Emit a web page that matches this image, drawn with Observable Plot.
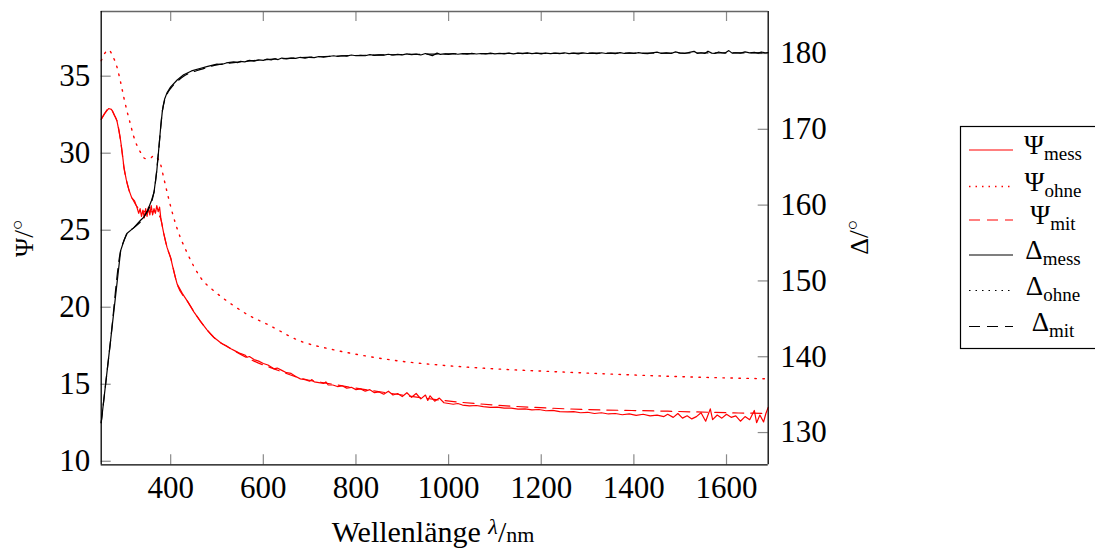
<!DOCTYPE html>
<html><head><meta charset="utf-8">
<script src="https://cdn.jsdelivr.net/npm/d3@7"></script>
<script src="https://cdn.jsdelivr.net/npm/@observablehq/plot@0.6"></script>
<style>
body{margin:0;background:#fff;}
#wrap{position:relative;width:1095px;height:550px;overflow:hidden;}
</style></head><body><div id="wrap"></div>
<script>
// ---- data (wavelength nm, value in degrees) ----
const psiMess = [[250,32.2],[258,32.6],[266,32.9],[272,32.85],[278,32.5],[284,32.1],[288,31.5],[292,30.8],[296,29.9],[299,29.1],[304,28.3],[310,27.6],[316,27.1],[322,26.9],[327,26.5],[331,26.1],[334,26.4],[337,25.9],[340,26.3],[343,25.8],[346,26.4],[349,25.9],[352,26.5],[355,26.0],[358,26.6],[361,26.0],[364,26.4],[367,26.1],[370,26.6],[373,26.2],[376,26.5],[379,25.7],[385,24.8],[392,23.9],[400,23.2],[407,22.3],[414,21.5],[425,20.9],[436,20.4],[450,19.7],[464,19.1],[478,18.55],[493,18.05],[510,17.65],[520,17.5],[530,17.3],[540,17.15],[550,17.0],[560,16.9],[565,16.75],[570,16.8],[580,16.6],[590,16.5],[600,16.35],[610,16.25],[623,16.0],[630,16.05],[640,15.9],[650,15.75],[660,15.7],[670,15.5],[680,15.35],[690,15.3],[700,15.2],[705,15.3],[710,15.15],[720,15.1],[730,15.05],[735,15.15],[740,14.95],[750,14.95],[760,14.85],[770,14.9],[780,14.75],[790,14.8],[800,14.65],[810,14.7],[820,14.55],[830,14.65],[840,14.45],[850,14.5],[860,14.35],[870,14.55],[880,14.3],[890,14.4],[900,14.2],[910,14.45],[920,14.15],[930,14.4],[940,14.05],[950,14.3],[955,13.95],[960,14.25],[970,13.9],[980,14.1],[990,13.8],[1000,13.75],[1010,13.7],[1020,13.75],[1030,13.65],[1045,13.6],[1060,13.62],[1075,13.55],[1090,13.5],[1105,13.52],[1120,13.45],[1135,13.45],[1150,13.38],[1165,13.4],[1180,13.33],[1195,13.36],[1210,13.28],[1225,13.3],[1240,13.22],[1257,13.2],[1270,13.22],[1285,13.15],[1300,13.18],[1315,13.1],[1330,13.15],[1345,13.07],[1360,13.1],[1375,13.02],[1390,13.08],[1405,12.98],[1420,13.05],[1435,12.95],[1450,13.0],[1465,12.9],[1473,13.05],[1485,12.85],[1495,13.1],[1505,12.8],[1515,12.95],[1525,12.75],[1535,12.9],[1545,13.15],[1555,12.6],[1565,13.4],[1570,12.7],[1580,13.0],[1590,12.8],[1600,13.05],[1610,12.85],[1620,12.95],[1630,12.6],[1640,12.9],[1650,12.7],[1660,13.3],[1665,12.5],[1672,13.0],[1680,12.55],[1685,13.1],[1690,13.5]];
const psiOhne = [[250,36.0],[258,36.5],[266,36.7],[275,36.3],[284,35.6],[292,34.6],[299,33.6],[306,32.7],[313,31.9],[320,31.1],[328,30.45],[335,30.05],[345,29.65],[355,29.65],[364,29.85],[371,29.7],[378,29.3],[385,28.4],[392,27.5],[403,26.2],[414,25.1],[436,23.5],[464,21.95],[500,20.9],[536,20.1],[570,19.45],[608,18.9],[680,17.8],[750,17.25],[800,16.95],[896,16.5],[1000,16.2],[1100,16.0],[1257,15.78],[1400,15.6],[1550,15.45],[1690,15.35]];
const psiMit = [[250,32.2],[258,32.6],[266,32.9],[272,32.85],[278,32.5],[284,32.1],[292,30.8],[299,29.1],[310,27.6],[320,26.9],[335,26.3],[350,26.2],[365,26.2],[378,25.8],[385,24.8],[392,23.9],[400,23.2],[414,21.5],[436,20.4],[464,19.1],[493,18.05],[536,17.2],[580,16.5],[623,16.0],[680,15.4],[750,15.0],[800,14.75],[900,14.3],[990,13.94],[1100,13.65],[1257,13.4],[1473,13.25],[1616,13.14],[1690,13.1]];
const deltaMess = [[250,131.3],[270,142],[292,154],[299,155.3],[306,156.3],[320,157.0],[335,158.0],[342,158.4],[350,159.3],[358,160.5],[364,161.7],[370,164.5],[374,167.2],[378,170],[382,172.4],[387,174],[392,174.8],[400,175.6],[414,176.5],[428,177.2],[445,177.7],[465,178.05],[480,178.3],[500,178.6],[510,178.55],[520,178.75],[536,178.9],[545,178.8],[550,178.95],[560,178.9],[570,179.1],[580,179.0],[590,179.15],[600,179.1],[608,179.25],[617,179.15],[625,179.3],[632,179.2],[640,179.4],[650,179.3],[660,179.4],[670,179.35],[680,179.5],[690,179.4],[700,179.5],[710,179.45],[720,179.6],[730,179.5],[740,179.6],[752,179.7],[761,179.6],[770,179.7],[780,179.65],[790,179.8],[800,179.7],[810,179.75],[820,179.7],[830,179.85],[840,179.75],[850,179.82],[860,179.78],[870,179.9],[880,179.8],[890,179.9],[900,179.82],[910,179.95],[920,179.85],[930,179.92],[940,179.8],[950,180.0],[958,179.85],[965,179.7],[975,180.05],[982,179.88],[990,179.95],[1000,179.88],[1010,180.0],[1020,179.9],[1030,179.98],[1040,179.9],[1050,180.02],[1060,179.93],[1070,180.0],[1080,179.93],[1090,180.05],[1100,179.95],[1110,180.02],[1120,179.95],[1130,180.05],[1140,179.96],[1150,180.04],[1160,179.97],[1170,180.08],[1180,179.98],[1190,180.04],[1200,179.96],[1210,180.06],[1220,179.98],[1230,180.05],[1240,179.97],[1250,180.1],[1260,179.98],[1270,180.05],[1280,179.96],[1290,180.08],[1300,180.0],[1310,180.06],[1320,179.98],[1330,180.1],[1340,180.0],[1350,180.06],[1360,179.98],[1370,180.12],[1380,180.0],[1390,180.08],[1400,180.0],[1410,180.12],[1420,180.02],[1430,179.98],[1440,180.1],[1450,180.18],[1460,180.0],[1470,180.08],[1480,180.0],[1490,180.22],[1500,180.05],[1510,180.0],[1520,180.15],[1530,180.28],[1537,180.02],[1545,180.1],[1553,180.0],[1560,180.3],[1568,180.05],[1575,180.0],[1583,180.2],[1590,180.1],[1597,180.05],[1605,180.38],[1612,180.05],[1620,180.1],[1630,180.05],[1640,180.22],[1650,180.08],[1660,180.15],[1668,180.05],[1675,180.2],[1683,180.08],[1690,180.12]];
const deltaMit = [[250,131.3],[270,142],[292,154],[299,155.3],[306,156.3],[320,157.0],[342,158.4],[364,161.7],[374,167.2],[382,172.4],[392,174.6],[400,175.4],[414,176.3],[428,177.0],[465,177.9],[500,178.5],[536,178.8],[608,179.2],[680,179.45],[752,179.65],[896,179.85],[1000,179.95],[1200,180.02],[1400,180.05],[1690,180.08]];

const xTicks = [400,600,800,1000,1200,1400,1600];
const psiTicks = [10,15,20,25,30,35];
const deltaTicks = [130,140,150,160,170,180];
const legendLabels = [["Ψ","mess"],["Ψ","ohne"],["Ψ","mit"],["Δ","mess"],["Δ","ohne"],["Δ","mit"]];

// ---- layout ----
const X0 = 250, X1 = 1690, Y0 = 9.77, Y1 = 39.2;
const W = 1095, H = 550, mL = 100.7, mR = W - 767.7, mT = 11, mB = H - 464.3;
const pxX = (W - mL - mR) / (X1 - X0), pxY = (H - mT - mB) / (Y1 - Y0);
// right axis (Δ) expressed in left-axis (Ψ) units
const psiOf = d => 11.8636 + (d - 130) * 0.49221;
const deltaOf = p => (p - 11.8636) / 0.49221 + 130;
const tk = 10; // tick length px

const red = "#ff0000";
const lw = 1.2;

const plot = Plot.plot({
  width: W, height: H,
  marginLeft: mL, marginRight: mR, marginTop: mT, marginBottom: mB,
  style: {fontFamily: "'Liberation Serif', 'DejaVu Serif', serif", fontSize: "31px", background: "#fff", color: "#000"},
  x: {domain: [X0, X1], label: null},
  y: {domain: [Y0, Y1], label: null},
  marks: [
    // inward ticks
    Plot.ruleY(psiTicks, {y: d => d, x1: () => X0, x2: () => X0 + tk / pxX, stroke: "#8a8a8a", strokeWidth: 1.2}),
    Plot.ruleY(deltaTicks, {y: d => psiOf(d), x1: () => X1 - tk / pxX, x2: () => X1, stroke: "#8a8a8a", strokeWidth: 1.2}),
    Plot.ruleX(xTicks, {x: d => d, y1: () => Y0, y2: () => Y0 + tk / pxY, stroke: "#8a8a8a", strokeWidth: 1.2}),
    Plot.ruleX(xTicks, {x: d => d, y1: () => Y1 - tk / pxY, y2: () => Y1, stroke: "#8a8a8a", strokeWidth: 1.2}),
    // Ψ series
    Plot.line(psiMess, {x: d => d[0], y: d => d[1], stroke: red, strokeWidth: lw}),
    Plot.line(psiOhne, {x: d => d[0], y: d => d[1], stroke: red, strokeWidth: 1.4, strokeDasharray: "1.5,6.5", curve: "monotone-x"}),
    Plot.line(psiMit, {x: d => d[0], y: d => d[1], stroke: red, strokeWidth: lw, strokeDasharray: "11,7", curve: "monotone-x"}),
    // Δ series (mapped onto right axis)
    Plot.line(deltaMess, {x: d => d[0], y: d => psiOf(d[1]), stroke: "#000", strokeWidth: lw}),
    Plot.line(deltaMit, {x: d => d[0], y: d => psiOf(d[1]), stroke: "#000", strokeWidth: lw, strokeDasharray: "11,7", curve: "monotone-x"}),
    // frame
    Plot.ruleY([Y1], {stroke: "#666", strokeWidth: 1.3}),
    Plot.ruleY([Y0], {stroke: "#000", strokeWidth: 1.3}),
    Plot.ruleX([X0], {stroke: "#000", strokeWidth: 1.3}),
    Plot.ruleX([X1], {stroke: "#000", strokeWidth: 1.3}),
    // axes
    Plot.axisY(psiTicks, {anchor: "left", tickSize: 0, tickPadding: 11, tickFormat: d => String(d), label: null}),
    Plot.axisY(deltaTicks.map(psiOf), {anchor: "right", tickSize: 0, tickPadding: 12, tickFormat: d => String(Math.round(deltaOf(d))), label: null}),
    Plot.axisX(xTicks, {anchor: "bottom", tickSize: 0, tickPadding: 11, tickFormat: d => String(d), label: null})
  ]
});

document.getElementById("wrap").appendChild(plot);
const svg = d3.select(plot);
const ff = "'Liberation Serif', 'DejaVu Serif', serif";

// axis titles
const xl = svg.append("text").attr("x", 433).attr("y", 542).attr("text-anchor", "middle")
  .attr("font-family", ff).attr("font-size", 30).attr("fill", "#000");
xl.append("tspan").text("Wellenlänge ");
xl.append("tspan").attr("font-style", "italic").attr("font-size", 22).attr("dy", -8).text("λ");
xl.append("tspan").attr("font-size", 30).attr("dy", 8).text("/");
xl.append("tspan").attr("font-size", 22).text("nm");

const yl = svg.append("text").attr("transform", "translate(33,238) rotate(-90)").attr("text-anchor", "middle")
  .attr("font-family", ff).attr("font-size", 26).attr("fill", "#000");
yl.append("tspan").text("Ψ");
yl.append("tspan").attr("font-size", 28).text("/");
yl.append("tspan").attr("font-size", 18).attr("dy", -10).text("○");

const yr = svg.append("text").attr("transform", "translate(868,237) rotate(-90)").attr("text-anchor", "middle")
  .attr("font-family", ff).attr("font-size", 26).attr("fill", "#000");
yr.append("tspan").text("Δ");
yr.append("tspan").attr("font-size", 28).text("/");
yr.append("tspan").attr("font-size", 18).attr("dy", -10).text("○");

// legend
const lg = svg.append("g");
lg.append("rect").attr("x", 960.5).attr("y", 126.5).attr("width", 140).attr("height", 222)
  .attr("fill", "#fff").attr("stroke", "#000").attr("stroke-width", 1.2);
const rowY = [150, 186.5, 220, 255, 290.5, 326.5];
const styles = [
  {stroke: red, dash: null, w: lw},
  {stroke: red, dash: "1.5,5", w: 1.4},
  {stroke: red, dash: "11,7", w: lw},
  {stroke: "#000", dash: null, w: lw},
  {stroke: "#000", dash: "1.5,5", w: 1.2},
  {stroke: "#000", dash: "11,7", w: lw}
];
legendLabels.forEach((lab, i) => {
  const s = styles[i];
  lg.append("line").attr("x1", 969).attr("x2", 1013).attr("y1", rowY[i]).attr("y2", rowY[i])
    .attr("stroke", s.stroke).attr("stroke-width", s.w).attr("stroke-dasharray", s.dash);
  const t = lg.append("text").attr("x", 1053).attr("y", rowY[i] + 4).attr("text-anchor", "middle")
    .attr("font-family", ff).attr("font-size", 27).attr("fill", "#000");
  t.append("tspan").text(lab[0]);
  t.append("tspan").attr("font-size", 19).attr("dy", 6).text(lab[1]);
});
</script></body></html>
